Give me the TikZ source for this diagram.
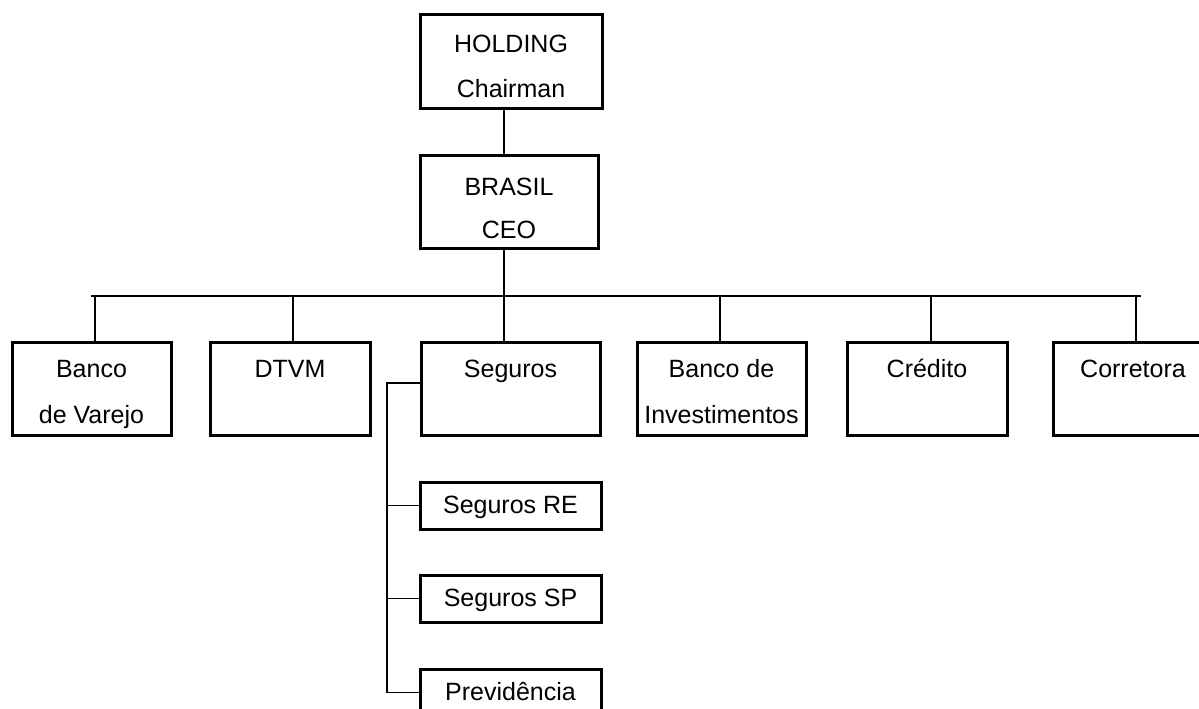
\documentclass[tikz,border=0pt]{standalone}
\usepackage{fontspec}
\setmainfont{Liberation Sans}
\begin{document}
\begin{tikzpicture}[x=1pt,y=-1pt,
  box/.style={draw=black,line width=3pt,rectangle,inner sep=0pt,align=center,
    font=\fontsize{25}{46}\selectfont},
  topbox/.style={box,minimum width=182pt,minimum height=93pt},
  rowbox/.style={box,minimum height=93pt,text height=72pt,text depth=3pt},
  subbox/.style={box,minimum width=181pt,minimum height=47pt,text height=20pt,text depth=4pt},
  conn/.style={draw=black,line width=1.8pt}]
\useasboundingbox (0,0) rectangle (1199,709);
% top
\node[topbox,text height=74pt,text depth=3pt,font=\fontsize{25}{45}\selectfont] (holding) at (511,61.5) {HOLDING\\Chairman};
\node[topbox,minimum width=178pt,text height=76pt,text depth=3pt,font=\fontsize{25}{43}\selectfont] (brasil) at (509,201.5) {BRASIL\\CEO};
% row
\node[rowbox,minimum width=159pt] (banco) at (91.5,388.5) {Banco\\de Varejo};
\node[rowbox,minimum width=160pt] (dtvm) at (290,388.5) {DTVM\\\mbox{}};
\node[rowbox,minimum width=179pt] (seg) at (510.5,388.5) {Seguros\\\mbox{}};
\node[rowbox,minimum width=169pt] (binv) at (721.5,388.5) {Banco de\\Investimentos};
\node[rowbox,minimum width=160pt] (cred) at (927,388.5) {Crédito\\\mbox{}};
\node[rowbox,minimum width=160pt] (corr) at (1133,388.5) {Corretora\\\mbox{}};
% sub
\node[subbox] (re) at (510.5,505.5) {Seguros RE};
\node[subbox] (sp) at (510.5,598.5) {Seguros SP};
\node[subbox] (prev) at (510.5,692.5) {Previdência};
% coordinates
\coordinate (trunk) at (504,296);
\coordinate (busL) at (91,296);
\coordinate (busR) at (1141,296);
\coordinate (dBanco) at (95,296);
\coordinate (dDtvm) at (293,296);
\coordinate (dBinv) at (720,296);
\coordinate (dCred) at (931,296);
\coordinate (dCorr) at (1136,296);
\coordinate (sb) at (387,383);
% connectors
\draw[conn] (holding.south -| trunk) -- (brasil.north -| trunk);
\draw[conn] (brasil.south -| trunk) -- (trunk);
\draw[conn] (busL) -- (busR);
\draw[conn] (dBanco) -- (banco.north -| dBanco);
\draw[conn] (dDtvm) -- (dtvm.north -| dDtvm);
\draw[conn] (trunk) -- (seg.north -| trunk);
\draw[conn] (dBinv) -- (binv.north -| dBinv);
\draw[conn] (dCred) -- (cred.north -| dCred);
\draw[conn] (dCorr) -- (corr.north -| dCorr);
\draw[conn] (seg.west |- sb) -- (sb) -- (sb |- prev.west) -- (prev.west);
\draw[conn] (sb |- re.west) -- (re.west);
\draw[conn] (sb |- sp.west) -- (sp.west);
\end{tikzpicture}
\end{document}
